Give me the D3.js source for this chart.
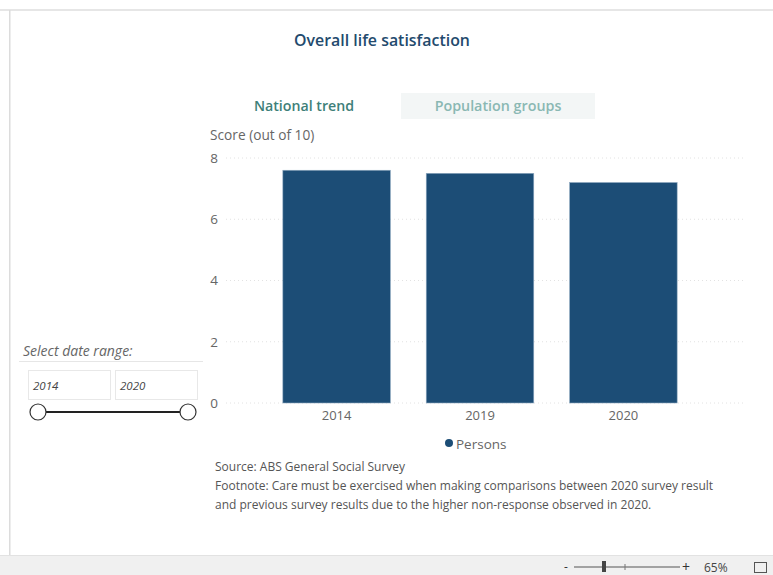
<!DOCTYPE html>
<html>
<head>
<meta charset="utf-8">
<script src="https://cdn.jsdelivr.net/npm/d3@7.9.0/dist/d3.min.js"></script>
<style>
  body { margin: 0; background: #fff; }
  svg { display: block; font-family: "Open Sans", "Noto Sans", sans-serif; }
</style>
</head>
<body>
<svg id="chart" width="773" height="575"></svg>
<script>
// data
const years = ['2014', '2019', '2020'];
const scores = [7.6, 7.5, 7.2];
const yTicks = [0, 2, 4, 6, 8];
const seriesName = 'Persons';
const dateRange = ['2014', '2020'];

const svg = d3.select('#chart');
const barColor = '#1c4d76';

// page frame
svg.append('rect').attr('x', 0).attr('y', 9).attr('width', 773).attr('height', 2).attr('fill', '#e6e6e6');
svg.append('rect').attr('x', 9).attr('y', 10).attr('width', 1.5).attr('height', 545).attr('fill', '#dcdcdc');
svg.append('rect').attr('x', 0).attr('y', 555).attr('width', 773).attr('height', 20).attr('fill', '#f0f0f0');
svg.append('rect').attr('x', 0).attr('y', 555).attr('width', 773).attr('height', 1).attr('fill', '#e2e2e2');

// title + tabs
svg.append('text').attr('x', 382).attr('y', 46).attr('text-anchor', 'middle')
  .attr('font-size', 15.9).attr('font-weight', 600).attr('fill', '#234a6d')
  .text('Overall life satisfaction');

svg.append('text').attr('x', 304).attr('y', 111).attr('text-anchor', 'middle')
  .attr('font-size', 14.2).attr('font-weight', 600).attr('fill', '#3e7f79')
  .text('National trend');
svg.append('rect').attr('x', 401).attr('y', 93).attr('width', 194).attr('height', 26).attr('fill', '#f3f6f6');
svg.append('text').attr('x', 498).attr('y', 111).attr('text-anchor', 'middle')
  .attr('font-size', 14.3).attr('font-weight', 600).attr('fill', '#8ab8b3')
  .text('Population groups');

// scales
const y = d3.scaleLinear().domain([0, 8]).range([403, 158]);
const x = d3.scaleBand().domain(years).range([247, 713]).paddingInner(0.25).paddingOuter(0.25);

// gridlines
svg.append('g').selectAll('line').data(yTicks).join('line')
  .attr('x1', 226).attr('x2', 743)
  .attr('y1', d => y(d)).attr('y2', d => y(d))
  .attr('stroke', '#e2e2e2').attr('stroke-width', 1).attr('stroke-dasharray', '1,3');

// y axis labels
const yAxis = svg.append('g').attr('transform', 'translate(218,0)')
  .call(d3.axisLeft(y).tickValues(yTicks).tickSize(0).tickPadding(0));
yAxis.select('.domain').remove();
yAxis.selectAll('text').attr('font-family', 'Open Sans').attr('font-size', 13.5).attr('fill', '#666')
  .attr('dy', '0.32em');

svg.append('text').attr('x', 210).attr('y', 140)
  .attr('font-size', 13.7).attr('fill', '#666').text('Score (out of 10)');

// bars
svg.append('g').selectAll('rect').data(scores).join('rect')
  .attr('x', (d, i) => x(years[i]))
  .attr('y', d => y(d))
  .attr('width', x.bandwidth())
  .attr('height', d => y(0) - y(d))
  .attr('fill', barColor)
  .attr('stroke', '#8fa9c0').attr('stroke-width', 0.6);

// x axis labels
const xAxis = svg.append('g').attr('transform', 'translate(0,411)')
  .call(d3.axisBottom(x).tickSize(0).tickPadding(0));
xAxis.select('.domain').remove();
xAxis.selectAll('text').attr('font-family', 'Open Sans').attr('font-size', 13).attr('fill', '#666');

// legend
svg.append('circle').attr('cx', 449).attr('cy', 443).attr('r', 4).attr('fill', barColor);
svg.append('text').attr('x', 456).attr('y', 449).attr('font-size', 13.5).attr('fill', '#666').text(seriesName);

// source / footnote
const notes = [
  'Source: ABS General Social Survey',
  'Footnote: Care must be exercised when making comparisons between 2020 survey result',
  'and previous survey results due to the higher non-response observed in 2020.'
];
svg.append('g').selectAll('text').data(notes).join('text')
  .attr('x', 215).attr('y', (d, i) => 471 + i * 19)
  .attr('font-size', 12).attr('fill', '#555').text(d => d);

// date range slicer
svg.append('text').attr('x', 23).attr('y', 356).attr('font-size', 14).attr('font-style', 'italic')
  .attr('fill', '#666').text('Select date range:');
svg.append('line').attr('x1', 19).attr('x2', 203).attr('y1', 361.5).attr('y2', 361.5).attr('stroke', '#e6e6e6');
dateRange.forEach((d, i) => {
  const bx = 28 + i * 87;
  svg.append('rect').attr('x', bx + 0.5).attr('y', 370.5).attr('width', 82).attr('height', 29)
    .attr('fill', '#fff').attr('stroke', '#e8e8e8');
  svg.append('text').attr('x', bx + 5).attr('y', 390).attr('font-size', 11.5).attr('font-style', 'italic')
    .attr('fill', '#444').text(d);
});
svg.append('line').attr('x1', 38).attr('x2', 188).attr('y1', 412).attr('y2', 412).attr('stroke', '#222').attr('stroke-width', 2);
[38, 188].forEach(cx => {
  svg.append('circle').attr('cx', cx).attr('cy', 412).attr('r', 8).attr('fill', '#fff').attr('stroke', '#333').attr('stroke-width', 1.2);
});

// zoom control at bottom
const zc = svg.append('g').attr('fill', '#333').attr('font-size', 12);
zc.append('text').attr('x', 564).attr('y', 571).text('-');
zc.append('line').attr('x1', 574).attr('x2', 680).attr('y1', 567).attr('y2', 567).attr('stroke', '#555');
zc.append('rect').attr('x', 602).attr('y', 561).attr('width', 4).attr('height', 11).attr('fill', '#444');
zc.append('line').attr('x1', 625).attr('x2', 625).attr('y1', 564).attr('y2', 570).attr('stroke', '#777');
zc.append('text').attr('x', 682).attr('y', 572).attr('font-size', 14).text('+');
zc.append('text').attr('x', 704).attr('y', 572).attr('fill', '#444').text('65%');
zc.append('rect').attr('x', 754.5).attr('y', 562.5).attr('width', 12).attr('height', 10).attr('fill', 'none').attr('stroke', '#555');
</script>
</body>
</html>
